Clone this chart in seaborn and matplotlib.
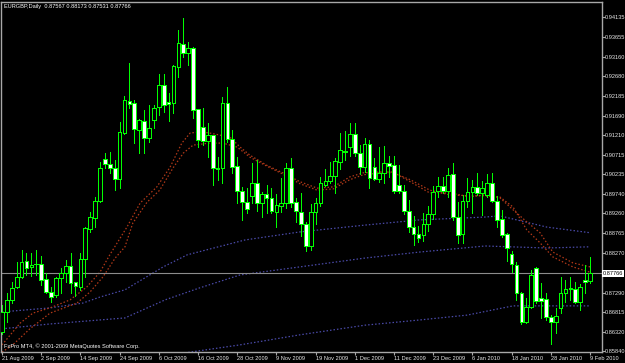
import numpy as np
import pandas as pd
import matplotlib
matplotlib.use("Agg")
import matplotlib.pyplot as plt
import matplotlib.transforms as mtransforms
from matplotlib import font_manager
import seaborn as sns

# ---------------- data ----------------
symbol_title = "EURGBP,Daily  0.87567 0.88173 0.87531 0.87766"
footer_text = "FxPro MT4, \u00a9 2001-2009 MetaQuotes Software Corp."

opens = [0.8631, 0.8681, 0.8711, 0.8743, 0.8768, 0.8808, 0.8793, 0.8799, 0.8800, 0.8763,
         0.8731, 0.8723, 0.8765, 0.8778, 0.8795, 0.8755, 0.8743, 0.8813, 0.8887, 0.8915,
         0.8957, 0.9061, 0.9049, 0.9039, 0.9012, 0.9126, 0.9206, 0.9201, 0.9134, 0.9156,
         0.9114, 0.9158, 0.9191, 0.9246, 0.9203, 0.9201, 0.9290, 0.9348, 0.9325, 0.9338,
         0.9186, 0.9141, 0.9106, 0.9121, 0.9039, 0.9039, 0.9201, 0.9111, 0.9044, 0.8982,
         0.8954, 0.8970, 0.9002, 0.8952, 0.8975, 0.8965, 0.8930, 0.8945, 0.8952, 0.9039,
         0.8954, 0.8930, 0.8900, 0.8845, 0.8930, 0.8952, 0.8997, 0.9007, 0.9019, 0.9054,
         0.9081, 0.9091, 0.9124, 0.9076, 0.9041, 0.9099, 0.9041, 0.9012, 0.9027, 0.9051,
         0.9046, 0.8997, 0.8982, 0.8932, 0.8892, 0.8875, 0.8873, 0.8900, 0.8925, 0.8982,
         0.8994, 0.8982, 0.9024, 0.8917, 0.8875, 0.8957, 0.8980, 0.8992, 0.8977, 0.8972,
         0.9002, 0.8957, 0.8912, 0.8875, 0.8825, 0.8798, 0.8728, 0.8656, 0.8693, 0.8790,
         0.8716, 0.8713, 0.8668, 0.8656, 0.8691, 0.8728, 0.8738, 0.8738, 0.8706, 0.8760,
         0.87567]
highs = [0.8698, 0.8728, 0.8755, 0.8805, 0.8835, 0.8828, 0.8828, 0.8835, 0.8820, 0.8778,
         0.8743, 0.8768, 0.8790, 0.8810, 0.8828, 0.8756, 0.8828, 0.8892, 0.8930, 0.8967,
         0.9054, 0.9076, 0.9079, 0.9059, 0.9154, 0.9218, 0.9300, 0.9208, 0.9160, 0.9183,
         0.9196, 0.9196, 0.9273, 0.9273, 0.9226, 0.9295, 0.9382, 0.9412, 0.9353, 0.9340,
         0.9187, 0.9188, 0.9151, 0.9122, 0.9066, 0.9216, 0.9241, 0.9134, 0.9066, 0.8992,
         0.8989, 0.9051, 0.9059, 0.8980, 0.8997, 0.8989, 0.8975, 0.9014, 0.9051, 0.9064,
         0.8965, 0.8977, 0.8905, 0.8949, 0.8965, 0.9017, 0.9037, 0.9054, 0.9064, 0.9126,
         0.9131, 0.9151, 0.9151, 0.9096, 0.9114, 0.9109, 0.9064, 0.9091, 0.9094, 0.9069,
         0.9069, 0.9046, 0.8997, 0.8959, 0.8920, 0.8895, 0.8927, 0.8945, 0.8994, 0.9017,
         0.9017, 0.9039, 0.9051, 0.8954, 0.8972, 0.9014, 0.9010, 0.9027, 0.9007, 0.9024,
         0.9027, 0.8970, 0.8935, 0.8878, 0.8833, 0.8805, 0.8731, 0.8716, 0.8785, 0.8793,
         0.8753, 0.8728, 0.8673, 0.8691, 0.8768, 0.8760, 0.8768, 0.8755, 0.8750, 0.8798,
         0.88173]
lows = [0.8626, 0.8656, 0.8703, 0.8741, 0.8765, 0.8773, 0.8771, 0.8773, 0.8748, 0.8728,
        0.8706, 0.8718, 0.8728, 0.8755, 0.8728, 0.8721, 0.8736, 0.8768, 0.8880, 0.8892,
        0.8954, 0.9039, 0.9027, 0.8984, 0.8989, 0.9124, 0.9188, 0.9101, 0.9076, 0.9076,
        0.9104, 0.9139, 0.9171, 0.9178, 0.9156, 0.9176, 0.9265, 0.9315, 0.9295, 0.9163,
        0.9091, 0.9096, 0.9066, 0.8997, 0.9010, 0.9002, 0.9104, 0.9027, 0.8952, 0.8910,
        0.8927, 0.8952, 0.8932, 0.8917, 0.8927, 0.8927, 0.8892, 0.8930, 0.8940, 0.8942,
        0.8905, 0.8871, 0.8833, 0.8835, 0.8900, 0.8945, 0.8994, 0.9002, 0.8977, 0.9037,
        0.9059, 0.9069, 0.9069, 0.9024, 0.9029, 0.8989, 0.9010, 0.9005, 0.9002, 0.9017,
        0.8977, 0.8977, 0.8925, 0.8880, 0.8848, 0.8855, 0.8858, 0.8883, 0.8912, 0.8967,
        0.8977, 0.8967, 0.8910, 0.8853, 0.8853, 0.8942, 0.8927, 0.8972, 0.8922, 0.8967,
        0.8954, 0.8892, 0.8868, 0.8808, 0.8780, 0.8711, 0.8651, 0.8653, 0.8691, 0.8703,
        0.8666, 0.8661, 0.8601, 0.8628, 0.8678, 0.8706, 0.8711, 0.8703, 0.8686, 0.8728,
        0.87531]
closes = [0.8681, 0.8711, 0.8741, 0.8768, 0.8805, 0.8790, 0.8798, 0.8800, 0.8760, 0.8731,
          0.8718, 0.8765, 0.8778, 0.8795, 0.8753, 0.8745, 0.8813, 0.8890, 0.8917, 0.8957,
          0.9039, 0.9049, 0.9039, 0.9012, 0.9129, 0.9208, 0.9198, 0.9136, 0.9158, 0.9114,
          0.9139, 0.9188, 0.9246, 0.9196, 0.9198, 0.9293, 0.9350, 0.9325, 0.9338, 0.9183,
          0.9109, 0.9106, 0.9121, 0.9039, 0.9037, 0.9201, 0.9111, 0.9041, 0.8982, 0.8954,
          0.8937, 0.9002, 0.8952, 0.8975, 0.8965, 0.8932, 0.8947, 0.8952, 0.9039, 0.8952,
          0.8932, 0.8900, 0.8845, 0.8930, 0.8952, 0.9002, 0.9007, 0.9019, 0.9056, 0.9084,
          0.9079, 0.9124, 0.9076, 0.9041, 0.9099, 0.9014, 0.9012, 0.9027, 0.9051, 0.9044,
          0.8982, 0.8982, 0.8932, 0.8892, 0.8875, 0.8865, 0.8900, 0.8925, 0.8980, 0.8994,
          0.8982, 0.9022, 0.8917, 0.8873, 0.8957, 0.8980, 0.8992, 0.8977, 0.8989, 0.9002,
          0.8957, 0.8910, 0.8873, 0.8840, 0.8800, 0.8728, 0.8656, 0.8693, 0.8773, 0.8708,
          0.8708, 0.8668, 0.8656, 0.8671, 0.8728, 0.8738, 0.8741, 0.8706, 0.8743, 0.8755,
          0.87766]

date_labels = ["21 Aug 2009", "2 Sep 2009", "14 Sep 2009", "24 Sep 2009", "6 Oct 2009",
               "16 Oct 2009", "28 Oct 2009", "9 Nov 2009", "19 Nov 2009", "1 Dec 2009",
               "11 Dec 2009", "23 Dec 2009", "6 Jan 2010", "18 Jan 2010", "28 Jan 2010",
               "9 Feb 2010"]
date_label_bars = [0, 8, 16, 24, 32, 40, 48, 56, 64, 72, 80, 88, 96, 104, 112, 120]

price_ticks = [0.94135, 0.93655, 0.93160, 0.92680, 0.92185, 0.91690, 0.91210, 0.90715,
               0.90235, 0.89740, 0.89260, 0.88765, 0.88270, 0.87290, 0.86815, 0.86320,
               0.85840]
last_price = 0.87766

# moving averages (read at sampled bars)
ma_red1_bar = [0, 3.7, 6.3, 9.8, 13.9, 17.3, 20, 22, 25.5, 28.2, 31.6, 34.3, 36.7, 38.4,
               40.4, 42.4, 46.5, 48.6, 50.6, 54, 57.3, 60.8, 64.3, 67.6, 71, 73.7, 77.1,
               79.8, 83.3, 87.3, 91.4, 95.5, 98.2, 101.6, 104.3, 107.1, 109.8, 112.4,
               116.5, 120]
ma_red1 = [0.8599, 0.8653, 0.8678, 0.8691, 0.8711, 0.8743, 0.8780, 0.8823, 0.8892, 0.8952,
           0.8992, 0.9041, 0.9101, 0.9126, 0.9129, 0.9126, 0.9116, 0.9091, 0.9071, 0.9046,
           0.9027, 0.9005, 0.8989, 0.8992, 0.9017, 0.9027, 0.9029, 0.9029, 0.9005, 0.8977,
           0.8977, 0.8967, 0.8972, 0.8965, 0.8935, 0.8905, 0.8878, 0.8830, 0.8803, 0.8793]
ma_red2_bar = [0, 2.2, 5.7, 9.8, 15.3, 18, 20.6, 23.1, 25.1, 26.7, 29.6, 32.2, 34.9, 37,
               39, 42.4, 45.1, 48, 50.6, 54, 57.3, 60.8, 64.3, 67.6, 71, 73.7, 77.1, 79.8,
               83.3, 87.3, 91.4, 95.5, 98.2, 101.6, 104.3, 107.1, 109.8, 112.4, 116.5, 120]
ma_red2 = [0.8581, 0.8599, 0.8639, 0.8678, 0.8703, 0.8731, 0.8768, 0.8815, 0.8843, 0.8902,
           0.8954, 0.8984, 0.9039, 0.9076, 0.9096, 0.9101, 0.9101, 0.9091, 0.9066, 0.9044,
           0.9024, 0.9000, 0.8984, 0.8987, 0.9010, 0.9022, 0.9027, 0.9027, 0.9010, 0.8984,
           0.8972, 0.8970, 0.8970, 0.8967, 0.8942, 0.8885, 0.8853, 0.8818, 0.8793, 0.8780]
ma_blue1_bar = [0, 9.8, 16.5, 20, 25.1, 32.9, 37.8, 49.6, 60.8, 74.1, 85.3, 98.6, 101.6,
                111.2, 120]
ma_blue1 = [0.8681, 0.8691, 0.8703, 0.8718, 0.8736, 0.8793, 0.8823, 0.8860, 0.8880, 0.8897,
            0.8910, 0.8917, 0.8920, 0.8892, 0.8878]
ma_blue2_bar = [0, 9.8, 20, 25.1, 33.3, 40.4, 48.6, 60.8, 74.1, 85.3, 98.6, 111.2, 120]
ma_blue2 = [0.8639, 0.8651, 0.8661, 0.8666, 0.8711, 0.8741, 0.8773, 0.8793, 0.8815, 0.8830,
            0.8845, 0.8840, 0.8843]
ma_blue3_bar = [37.3, 48.6, 60.8, 74.1, 85.3, 94.9, 104.3, 120]
ma_blue3 = [0.8579, 0.8599, 0.8624, 0.8648, 0.8661, 0.8673, 0.8696, 0.8696]

# ---------------- styling ----------------
sns.set_theme(style="dark")
_names = {f.name for f in font_manager.fontManager.ttflist}
if "Liberation Sans Narrow" in _names:
    FAMILY, FS = "Liberation Sans Narrow", 5.0
elif "DejaVu Sans Condensed" in _names:
    FAMILY, FS = "DejaVu Sans Condensed", 4.0
else:
    FAMILY, FS = "Liberation Sans", 4.1
plt.rcParams["font.family"] = [FAMILY, "DejaVu Sans"]

BG = "#000000"
LIME = "#00ff00"
FRAME = "#a8a8a8"
RED = "#b03818"
BLUE = "#4a4aa8"

fig = plt.figure(figsize=(6.25, 3.63), dpi=100, facecolor=BG)
ax = fig.add_axes([1.5 / 625, (363 - 352.3) / 363, 600.2 / 625, 350.6 / 363])
ax.set_facecolor(BG)
ax.grid(False)

df = pd.DataFrame({"bar": np.arange(len(opens)), "open": opens, "high": highs,
                   "low": lows, "close": closes})

# moving averages
for bx, vals, col in [(ma_blue3_bar, ma_blue3, BLUE), (ma_blue2_bar, ma_blue2, BLUE),
                      (ma_blue1_bar, ma_blue1, BLUE), (ma_red2_bar, ma_red2, RED),
                      (ma_red1_bar, ma_red1, RED)]:
    sns.lineplot(x=bx, y=vals, ax=ax, color=col, linewidth=0.9,
                 linestyle=(0, (1.2, 1.6)), zorder=1, sort=False)

# last price line
ax.axhline(last_price, color="#8c8c8c", linewidth=0.8, zorder=1.5)

# candles
bull = df["close"] >= df["open"]
ax.vlines(df["bar"], df["low"], df["high"], colors=LIME, linewidth=0.72, zorder=2,
          antialiased=False)
body_lo = np.minimum(df["open"], df["close"])
body_h = np.abs(df["close"] - df["open"])
ax.bar(df["bar"][bull], body_h[bull], bottom=body_lo[bull], width=0.76, color=BG,
       edgecolor=LIME, linewidth=0.6, zorder=3, antialiased=False)
ax.bar(df["bar"][~bull], body_h[~bull], bottom=body_lo[~bull], width=0.76, color="white",
       edgecolor=LIME, linewidth=0.6, zorder=3, antialiased=False)

ax.set_xlim(-0.1, 122.39)
ax.set_ylim(0.85805, 0.94528)

for sp in ax.spines.values():
    sp.set_color(FRAME)
    sp.set_linewidth(1.0)
    sp.set_visible(True)

# y axis on the right
ax.yaxis.tick_right()
ax.set_yticks(price_ticks)
ax.set_yticklabels([f"{p:.5f}" for p in price_ticks])
ax.tick_params(axis="y", which="both", direction="out", length=2.0, width=0.8,
               color=FRAME, labelcolor="#e8e8e8", labelsize=FS, pad=0.4, right=True,
               left=False)

# x axis
ax.set_xticks(date_label_bars)
ax.set_xticklabels(date_labels)
for t in ax.get_xticklabels():
    t.set_horizontalalignment("left")
ax.tick_params(axis="x", direction="out", length=2.5, width=0.8, color=FRAME,
               labelcolor="#e8e8e8", labelsize=FS, pad=0.5, bottom=True)
ax.set_xlabel("")
ax.set_ylabel("")

# last price tag on axis
trans = mtransforms.blended_transform_factory(ax.transAxes, ax.transData)
ax.text(1.002, last_price, f"{last_price:.5f}", transform=trans, ha="left", va="center",
        fontsize=FS, color="black", clip_on=False, zorder=10,
        bbox=dict(facecolor="white", edgecolor="none", pad=0.7))

# header / footer
ax.text(3 / 600.2, 1 - 2.5 / 350.6, symbol_title, transform=ax.transAxes, ha="left",
        va="top", fontsize=FS, color="white", zorder=10)
ax.text(3 / 600.2, 4.5 / 350.6, footer_text, transform=ax.transAxes, ha="left",
        va="baseline", fontsize=FS, color="white", zorder=10)

fig.savefig("out.png", dpi=100, facecolor=BG)
